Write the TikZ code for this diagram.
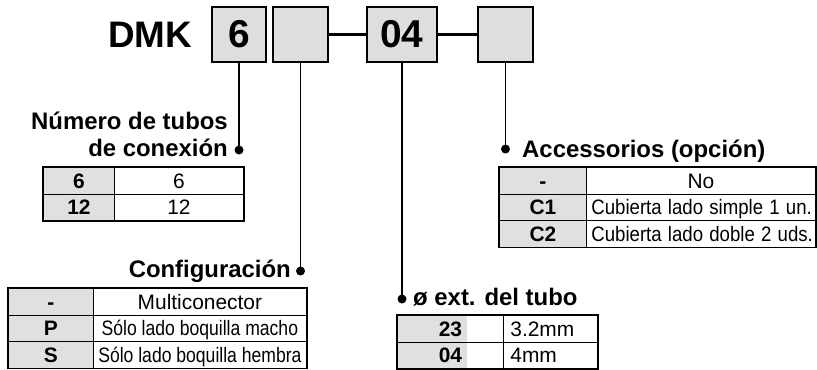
\documentclass[tikz,border=0pt]{standalone}
\usepackage{fontspec}
\usepackage{graphicx}
\setmainfont{Liberation Sans}
\definecolor{boxgray}{RGB}{222,222,222}
\definecolor{cellgray}{RGB}{224,224,224}
\tikzset{
  topbox/.style={draw, line width=2bp, fill=boxgray, minimum height=55bp, inner sep=0pt,
    font=\fontsize{39}{39}\selectfont\bfseries},
  cellbase/.style={draw, line width=0.8bp, anchor=north west, inner sep=0pt,
    minimum height=26.5bp, text height=15bp, text depth=0pt},
  keycell/.style={cellbase, fill=cellgray, font=\fontsize{21}{21}\selectfont\bfseries},
  valcell/.style={cellbase, font=\fontsize{21}{21}\selectfont},
  head/.style={font=\fontsize{24}{29}\selectfont\bfseries, inner sep=0pt},
  dotnode/.style={circle, fill=black, inner sep=0pt, minimum size=9bp},
  lead/.style={line width=1.8bp},
  joinline/.style={line width=3bp},
  outer/.style={line width=1.6bp},
}
\begin{document}
\begin{tikzpicture}[x=1bp,y=-1bp]
\useasboundingbox (0,0) rectangle (817,369);

% title and code boxes
\node[font=\fontsize{37}{37}\selectfont\bfseries, inner sep=0pt] (dmk) at (150,34.5) {DMK};
\node[topbox, minimum width=54bp] (b1) at (239,34.5) {6};
\node[topbox, minimum width=55bp] (b2) at (300.5,34.5) {};
\node[topbox, minimum width=70bp] (b3) at (402,34.5) {04};
\node[topbox, minimum width=55bp] (b4) at (505.5,34.5) {};
\draw[joinline] (b2.east) -- (b3.west);
\draw[joinline] (b3.east) -- (b4.west);

% dots
\node[dotnode] (d1) at (239,150) {};
\node[dotnode] (d2) at (300.5,271) {};
\node[dotnode] (d3) at (402,299) {};
\node[dotnode] (d4) at (505.5,149) {};
\draw[lead] (b1.south) -- (d1.center);
\draw[lead] (b2.south) -- (d2.center);
\draw[lead] (b3.south) -- (d3.center);
\draw[lead] (b4.south) -- (d4.center);

% headings
\node[head, anchor=base east] (h1a) at (228,129) {Número de tubos};
\node[head, anchor=base east] (h1b) at (228,156) {de conexión};
\node[head, anchor=base east] (h2) at (291,277) {Configuración};
\node[head, anchor=base west] (h3) at (413,305) {ø ext. del tubo};
\node[head, anchor=base west] (h4) at (522,157) {Accessorios (opción)};

% table 1: Número de tubos
\node[keycell, minimum width=71bp] (t1k1) at (43,167) {6};
\node[valcell, minimum width=129bp] (t1v1) at (114,167) {6};
\node[keycell, minimum width=71bp] (t1k2) at (43,193.5) {12};
\node[valcell, minimum width=129bp] (t1v2) at (114,193.5) {12};
\draw[outer] (t1k1.north west) rectangle (t1v2.south east);

% table 2: Configuración
\node[keycell, minimum width=85bp] (t2k1) at (8,288) {-};
\node[valcell, minimum width=213bp] (t2v1) at (93,288) {Multiconector};
\node[keycell, minimum width=85bp] (t2k2) at (8,314.5) {P};
\node[valcell, minimum width=213bp] (t2v2) at (93,314.5) {\scalebox{0.84}[1]{Sólo lado boquilla macho}};
\node[keycell, minimum width=85bp] (t2k3) at (8,341) {S};
\node[valcell, minimum width=213bp] (t2v3) at (93,341) {\scalebox{0.84}[1]{Sólo lado boquilla hembra}};
\draw[outer] (t2k1.north west) rectangle (t2v3.south east);

% table 3: ø ext. del tubo
\tikzset{halfgray/.style={cellbase, minimum width=106bp, font=\fontsize{21}{21}\selectfont\bfseries,
  path picture={\fill[cellgray] (path picture bounding box.north west) rectangle
    ([xshift=70bp]path picture bounding box.south west);}}}
\node[halfgray] (t3k1) at (397,315) {\makebox[70bp]{23}\hspace{36bp}};
\node[valcell, minimum width=94bp, text width=80bp, align=left, inner xsep=7bp] (t3v1) at (503,315) {3.2mm};
\node[halfgray] (t3k2) at (397,341.5) {\makebox[70bp]{04}\hspace{36bp}};
\node[valcell, minimum width=94bp, text width=80bp, align=left, inner xsep=7bp] (t3v2) at (503,341.5) {4mm};
\draw[outer] (t3k1.north west) rectangle (t3v2.south east);

% table 4: Accessorios
\node[keycell, minimum width=87bp] (t4k1) at (499,167) {-};
\node[valcell, minimum width=229bp] (t4v1) at (586,167) {No};
\node[keycell, minimum width=87bp] (t4k2) at (499,193.5) {C1};
\node[valcell, minimum width=229bp, text width=219bp, align=left, inner xsep=5bp] (t4v2) at (586,193.5) {\scalebox{0.89}[1]{Cubierta lado simple 1 un.}};
\node[keycell, minimum width=87bp] (t4k3) at (499,220) {C2};
\node[valcell, minimum width=229bp, text width=219bp, align=left, inner xsep=5bp] (t4v3) at (586,220) {\scalebox{0.89}[1]{Cubierta lado doble 2 uds.}};
\draw[outer] (t4k1.north west) rectangle (t4v3.south east);
\end{tikzpicture}
\end{document}
